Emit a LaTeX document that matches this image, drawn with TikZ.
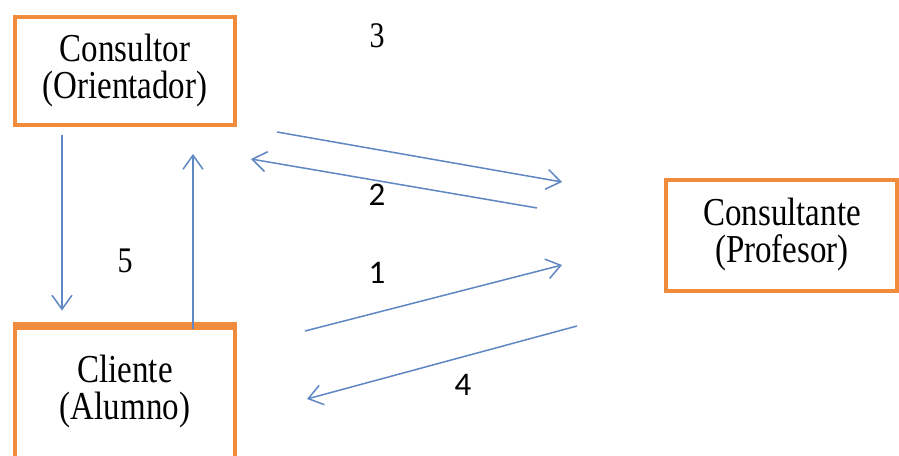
\documentclass[tikz,border=0pt]{standalone}
\usepackage{fontspec}
\setmainfont{Liberation Serif}
\newfontfamily\numsans{Carlito}
\usetikzlibrary{arrows.meta,calc}
\definecolor{boxorange}{RGB}{240,140,60}
\definecolor{lineblue}{RGB}{95,135,195}
\newcommand{\twolines}[2]{\scalebox{1}[1.2]{\fontsize{33}{27}\selectfont\begin{tabular}{@{}c@{}}#1\\#2\end{tabular}}}
\newcommand{\tallnum}[1]{\scalebox{1}[1.2]{#1}}
\tikzset{
  boxnode/.style={draw=boxorange, line width=4pt, fill=none, inner sep=0pt},
  boxtext/.style={inner sep=0pt},
  arr/.style={draw=lineblue, line width=1.5pt, -{Straight Barb[length=14pt,width=20pt,line width=1.5pt]}},
  numserif/.style={inner sep=0pt, font=\fontsize{30}{34}\selectfont},
  numsansstyle/.style={inner sep=0pt, font=\numsans\fontsize{33}{36}\selectfont}
}
\begin{document}
\begin{tikzpicture}[x=1pt,y=-1pt]
\useasboundingbox (0,0) rectangle (899,455);
\fill[white] (0,0) rectangle (899,455);
% boxes
\node[boxnode, minimum width=220pt, minimum height=108pt] (consultor) at (125,71) {};
\node[boxtext] (consultortxt) at (125,71) {\twolines{Consultor}{(Orientador)}};
\node[boxnode, minimum width=231pt, minimum height=111pt] (consultante) at (781.5,235.5) {};
\node[boxtext] (consultantetxt) at (782,235) {\twolines{Consultante}{(Profesor)}};
\node[boxnode, minimum width=220pt, minimum height=172pt] (cliente) at (125,413.5) {};
\draw[boxorange, line width=7pt] (cliente.north west) -- (cliente.north east);
\node[boxtext] (clientetxt) at (125,392) {\twolines{Cliente}{(Alumno)}};
% free ends of the connectors
\coordinate (c3s) at (277,132);
\coordinate (c3e) at (562,182);
\coordinate (c2s) at (537,208);
\coordinate (c2e) at (251,159);
\coordinate (c1s) at (305,331);
\coordinate (c1e) at (562,265);
\coordinate (c4s) at (577,326);
\coordinate (c4e) at (307,399);
% connectors
\draw[arr] ($(consultor.south)+(-63,8)$) -- ($(cliente.north)+(-63,-15)$);
\draw[arr] ($(cliente.north)+(68,3)$) -- ($(consultor.south)+(68,27)$);
\draw[arr] (c3s) -- (c3e);
\draw[arr] (c2s) -- (c2e);
\draw[arr] (c1s) -- (c1e);
\draw[arr] (c4s) -- (c4e);
% labels
\node[numserif] (n3) at (377,36) {\tallnum{3}};
\node[numsansstyle] (n2) at (377,195) {2};
\node[numserif] (n5) at (125,261) {\tallnum{5}};
\node[numsansstyle] (n1) at (377,273) {1};
\node[numsansstyle] (n4) at (463,385) {4};
\end{tikzpicture}
\end{document}
